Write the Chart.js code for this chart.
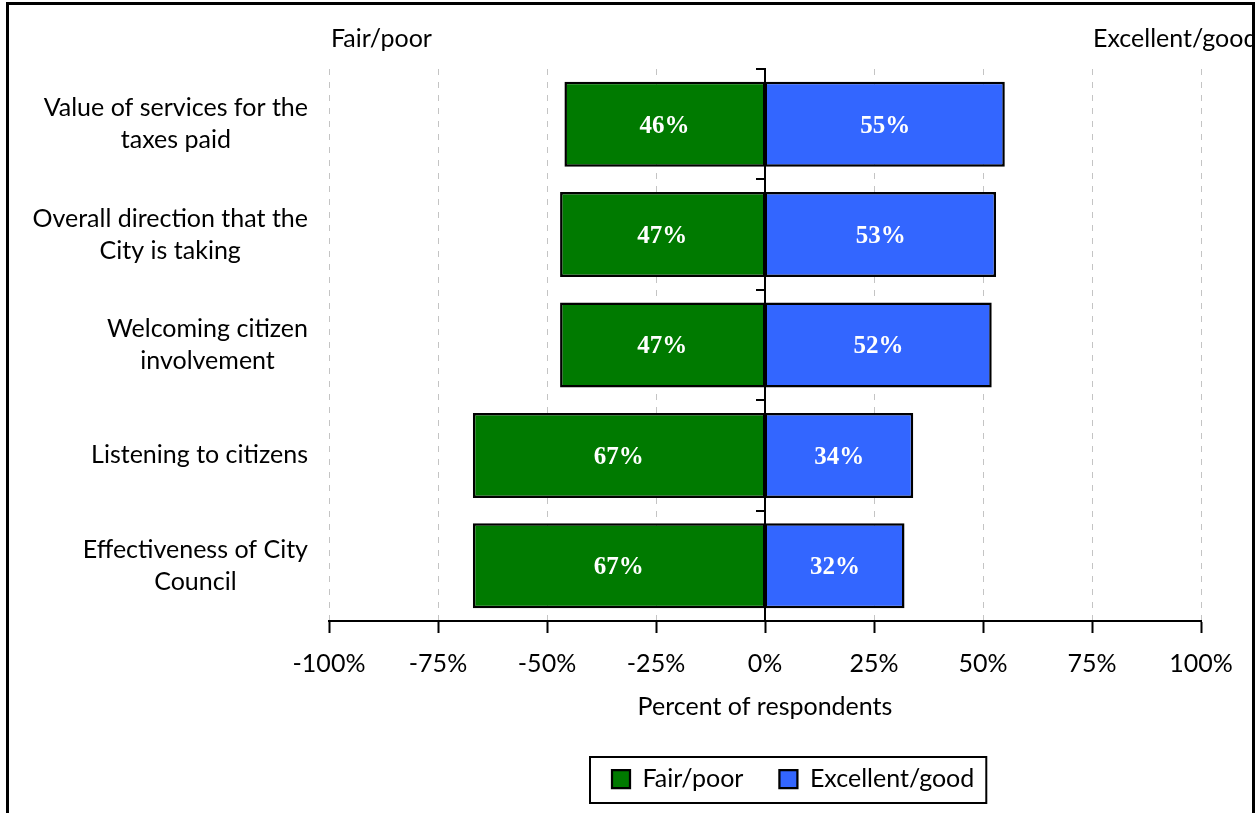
<!DOCTYPE html>
<html>
<head>
<meta charset="utf-8">
<title>Ratings of City government</title>
<script src="https://cdn.jsdelivr.net/npm/chart.js@4.4.1/dist/chart.umd.min.js"></script>
<style>
  html, body { margin: 0; padding: 0; background: #fff; overflow: hidden; }
  #frame {
    position: absolute; left: 6px; top: 2px;
    width: 1243px; height: 820px;
    border: 3px solid #000; border-bottom: none;
    overflow: hidden; background: #fff;
  }
  canvas { display: block; }
</style>
</head>
<body>
<div id="frame"><canvas id="chart" width="1243" height="808"></canvas></div>
<script>
// Survey items (multi-line labels are wrapped as arrays)
const categories = [
  ["Value of services for the", "taxes paid"],
  ["Overall direction that the", "City is taking"],
  ["Welcoming citizen", "involvement"],
  "Listening to citizens",
  ["Effectiveness of City", "Council"]
];
// Percent of respondents for each rating group
const fairPoor = [46, 47, 47, 67, 67];
const excellentGood = [55, 53, 52, 34, 32];
const seriesNames = ["Fair/poor", "Excellent/good"];
// Axis ticks and side captions
const tickValues = [-100, -75, -50, -25, 0, 25, 50, 75, 100];
const sideCaptions = ["Fair/poor", "Excellent/good"];
const axisTitle = "Percent of respondents";

const GREEN = "#007a00";
const BLUE = "#3366ff";
const FONT = "Lato";
const TEXT_SIZE = 25;

Chart.defaults.font.family = FONT;
Chart.defaults.color = "#000";

const decorations = {
  id: "decorations",
  // nudge the legend so it sits under the bars rather than the whole canvas
  afterUpdate(chart) {
    const lg = chart.legend;
    if (!lg || !lg.legendHitBoxes || !lg.legendHitBoxes.length) return;
    const dx = 603 - lg.legendHitBoxes[0].left;
    lg.left += dx;
    lg.right += dx;
    lg.legendHitBoxes.forEach(h => { h.left += dx; });
  },
  beforeDatasetsDraw(chart) {
    const { ctx, chartArea: a, scales: { x, y } } = chart;
    const x0 = x.getPixelForValue(0);
    ctx.save();
    ctx.strokeStyle = "#000";
    ctx.lineWidth = 2;
    ctx.beginPath();
    ctx.moveTo(x0, a.top - 1);
    ctx.lineTo(x0, a.bottom);
    for (let i = 0; i <= chart.data.labels.length; i++) {
      const yy = Math.round(y.getPixelForValue(i - 0.5));
      ctx.moveTo(x0 - 9, yy);
      ctx.lineTo(x0, yy);
    }
    ctx.stroke();
    ctx.restore();
  },
  afterDatasetsDraw(chart) {
    const { ctx } = chart;
    ctx.save();
    ctx.font = 'bold 25px "Liberation Serif"';
    ctx.fillStyle = "#fff";
    ctx.textAlign = "center";
    ctx.textBaseline = "middle";
    chart.data.datasets.forEach((ds, di) => {
      chart.getDatasetMeta(di).data.forEach((bar, i) => {
        ctx.fillText(Math.abs(ds.data[i]) + "%", (bar.x + bar.base) / 2, bar.y + 2);
      });
    });
    ctx.restore();
  },
  afterDraw(chart) {
    const { ctx, chartArea: a, scales: { x, y } } = chart;
    ctx.save();
    ctx.fillStyle = "#000";
    // category labels: each block right-aligned, its lines centred
    ctx.font = TEXT_SIZE + "px " + FONT;
    ctx.textAlign = "center";
    ctx.textBaseline = "middle";
    chart.data.labels.forEach((lab, i) => {
      const lines = Array.isArray(lab) ? lab : [lab];
      const w = Math.max(...lines.map(l => ctx.measureText(l).width));
      const cx = a.left - 21 - w / 2;
      const cy = y.getPixelForValue(i);
      lines.forEach((l, k) => {
        ctx.fillText(l, cx, cy + (k - (lines.length - 1) / 2) * 32);
      });
    });
    // side captions above the plot
    ctx.textAlign = "left";
    ctx.fillText(sideCaptions[0], x.getPixelForValue(-100) + 2, a.top - 30);
    ctx.fillText(sideCaptions[1], x.getPixelForValue(75) + 1, a.top - 30);
    // legend frame
    const hb = chart.legend.legendHitBoxes;
    if (hb && hb.length) {
      const first = hb[0], last = hb[hb.length - 1];
      const l = first.left - 22;
      const r = last.left + last.width + 12;
      const cy = first.top + first.height / 2;
      ctx.strokeStyle = "#000";
      ctx.lineWidth = 2;
      ctx.strokeRect(l, cy - 22, r - l, 46);
    }
    ctx.restore();
  }
};

new Chart(document.getElementById("chart"), {
  type: "bar",
  data: {
    labels: categories,
    datasets: [
      {
        label: seriesNames[0],
        data: fairPoor.map(v => -v),
        backgroundColor: GREEN,
        borderColor: "#000",
        borderWidth: { top: 2.5, bottom: 2.5, left: 2.5, right: 1.5 },
        borderSkipped: false,
        barPercentage: 0.77,
        categoryPercentage: 1
      },
      {
        label: seriesNames[1],
        data: excellentGood,
        backgroundColor: BLUE,
        borderColor: "#000",
        borderWidth: { top: 2.5, bottom: 2.5, left: 1.5, right: 2.5 },
        borderSkipped: false,
        barPercentage: 0.77,
        categoryPercentage: 1
      }
    ]
  },
  options: {
    indexAxis: "y",
    responsive: false,
    animation: false,
    devicePixelRatio: 1,
    layout: { padding: { top: 64, right: 51, bottom: 11.5, left: 0 } },
    scales: {
      x: {
        type: "linear",
        stacked: true,
        min: -100,
        max: 100,
        afterBuildTicks(s) { s.ticks = tickValues.map(v => ({ value: v })); },
        ticks: {
          callback: v => v + "%",
          font: { size: TEXT_SIZE },
          color: "#000",
          padding: 16,
          maxRotation: 0,
          autoSkip: false
        },
        grid: {
          color: c => (c.tick && c.tick.value === 0) ? "rgba(0,0,0,0)" : "#c4c4c4",
          lineWidth: 1,
          drawTicks: true,
          tickLength: 12,
          tickColor: "#000",
          tickWidth: 2,
          tickBorderDash: []
        },
        border: { display: true, color: "#000", width: 2, dash: [6, 7] },
        title: {
          display: true,
          text: axisTitle,
          font: { size: TEXT_SIZE },
          color: "#000",
          padding: { top: 0, bottom: 8.5 }
        },
        afterFit(s) { s.height = 109.5; }
      },
      y: {
        type: "category",
        stacked: true,
        position: "left",
        ticks: { display: false },
        grid: { display: false },
        border: { display: false },
        afterFit(s) { s.width = 320; }
      }
    },
    plugins: {
      legend: {
        position: "bottom",
        labels: {
          font: { size: TEXT_SIZE, family: FONT },
          color: "#000",
          boxWidth: 18,
          boxHeight: 18,
          padding: 36
        }
      },
      tooltip: { enabled: false },
      title: { display: false }
    }
  },
  plugins: [decorations]
});
</script>
</body>
</html>
